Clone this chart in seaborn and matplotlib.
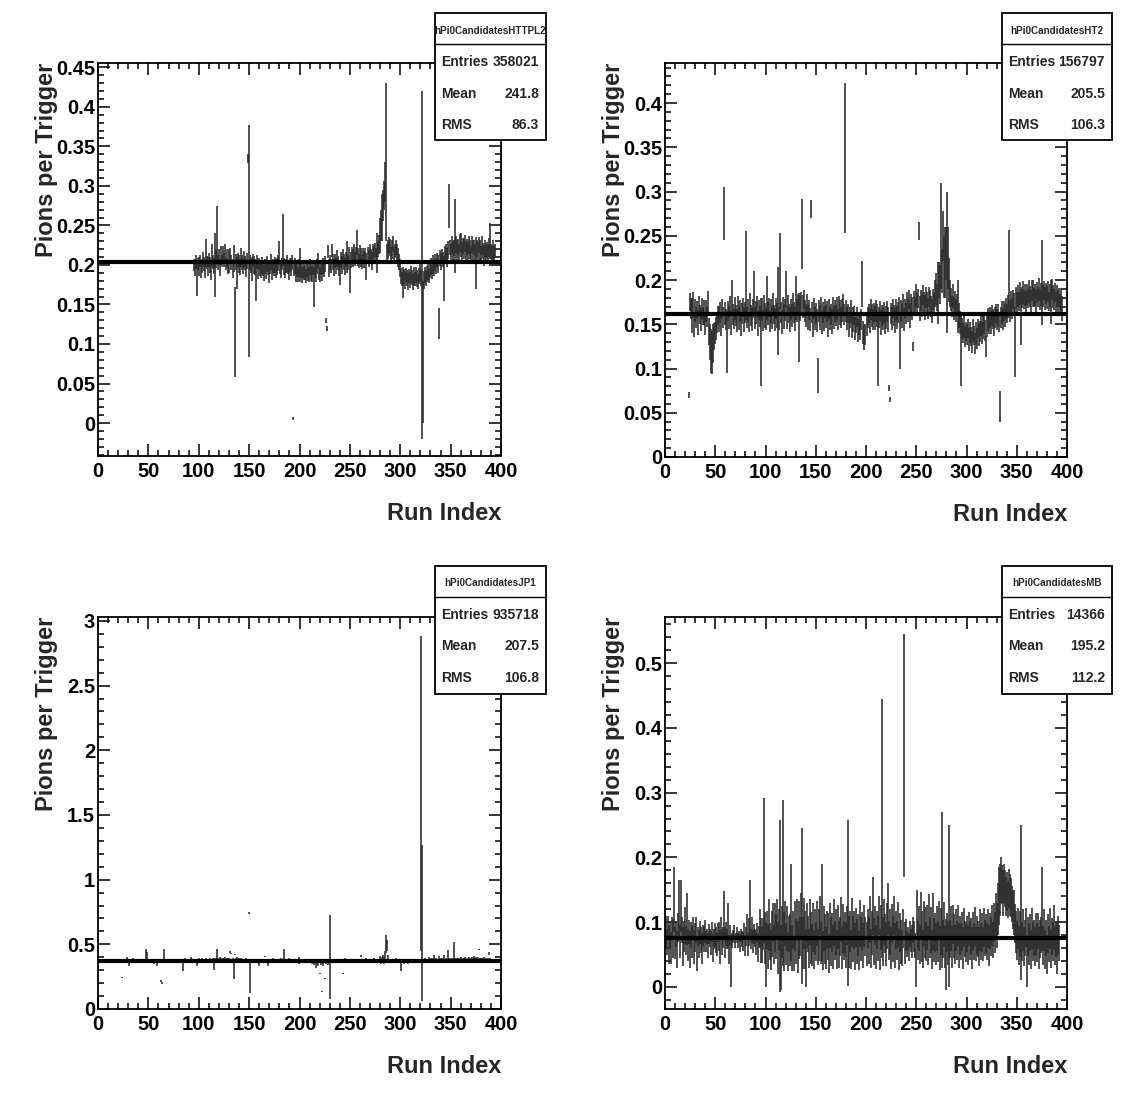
"""Pi0 candidates per trigger vs run index, four trigger panels (ROOT style)."""

import matplotlib

matplotlib.use("Agg")
import matplotlib.pyplot as plt
import numpy as np
import seaborn as sns
from matplotlib.patches import Rectangle
from matplotlib.ticker import MultipleLocator, FormatStrFormatter
from matplotlib.lines import Line2D

nan = float("nan")

# ---------------------------------------------------------------- HTTPL2
HTTPL2_START = 95
HTTPL2_VALUES = [
    0.200, 0.196, 0.204, 0.183, 0.201, 0.198, 0.205, 0.193, 0.199, 0.207,
    0.201, 0.195, 0.215, 0.203, 0.198, 0.206, 0.200, 0.192, 0.212, 0.204,
    0.199, 0.200, 0.208, 0.240, 0.203, 0.210, 0.197, 0.212, 0.205, 0.214,
    0.206, 0.216, 0.201, 0.209, 0.198, 0.205, 0.212, 0.203, 0.196, 0.208,
    0.115, 0.204, 0.190, 0.206, 0.201, 0.197, 0.210, 0.203, 0.199, 0.207,
    0.202, 0.196, 0.205, 0.335, 0.230, 0.203, 0.199, 0.195, 0.206, 0.200,
    0.197, 0.180, 0.204, 0.193, 0.201, 0.196, 0.192, 0.199, 0.194, 0.190,
    0.198, 0.193, 0.201, 0.195, 0.189, 0.197, 0.204, 0.192, 0.199, 0.196,
    0.200, 0.193, 0.198, 0.202, 0.215, 0.197, 0.194, 0.201, 0.232, 0.198,
    0.193, 0.199, 0.202, 0.196, 0.191, 0.200, 0.197, 0.203, 0.006, 0.195,
    0.199, 0.190, 0.194, 0.188, 0.196, 0.200, 0.192, 0.187, 0.195, 0.190,
    0.193, 0.186, 0.195, 0.191, 0.188, 0.197, 0.192, 0.189, 0.196, 0.172,
    0.194, 0.190, 0.198, 0.205, 0.193, 0.188, 0.196, 0.191, 0.199, 0.194,
    0.201, 0.130, 0.120, 0.217, 0.196, 0.203, 0.199, 0.218, 0.204, 0.197,
    0.205, 0.199, 0.208, 0.202, 0.196, 0.190, 0.206, 0.200, 0.211, 0.204,
    0.198, 0.207, 0.210, 0.203, 0.212, 0.185, 0.206, 0.214, 0.209, 0.216,
    0.208, 0.213, 0.228, 0.210, 0.205, 0.215, 0.209, 0.204, 0.211, 0.207,
    0.212, 0.198, 0.214, 0.208, 0.216, 0.211, 0.205, 0.217, 0.213, 0.219,
    0.212, 0.215, 0.220, 0.226, 0.237, 0.250, 0.260, 0.275, 0.288, 0.305,
    0.330, 0.215, 0.220, 0.225, 0.222, 0.214, 0.219, 0.226, 0.212, 0.218,
    0.222, 0.215, 0.210, 0.204, 0.196, 0.186, 0.182, 0.178, 0.185, 0.180,
    0.187, 0.183, 0.179, 0.186, 0.181, 0.188, 0.184, 0.178, 0.185, 0.182,
    0.187, 0.183, 0.179, 0.186, 0.190, 0.184, 0.200, 0.090, 0.181, 0.187,
    0.183, 0.189, 0.192, 0.186, 0.194, 0.198, 0.191, 0.200, 0.196, 0.203,
    0.198, 0.206, 0.201, 0.126, 0.209, 0.204, 0.211, 0.207, 0.183, 0.213,
    0.216, 0.210, 0.219, 0.275, 0.222, 0.214, 0.225, 0.218, 0.221, 0.237,
    0.226, 0.219, 0.223, 0.215, 0.228, 0.225, 0.217, 0.224, 0.220, 0.227,
    0.218, 0.223, 0.216, 0.225, 0.220, 0.214, 0.226, 0.219, 0.222, 0.215,
    0.202, 0.221, 0.217, 0.225, 0.219, 0.213, 0.224, 0.218, 0.212, 0.220,
    0.214, 0.219, 0.216, 0.222, 0.230, 0.217, 0.213, 0.219, 0.215, 0.218,
]
HTTPL2_ERRORS = [
    0.008, 0.010, 0.009, 0.022, 0.008, 0.012, 0.008, 0.010, 0.009, 0.010,
    0.009, 0.011, 0.018, 0.008, 0.012, 0.009, 0.010, 0.011, 0.015, 0.009,
    0.010, 0.040, 0.012, 0.035, 0.009, 0.010, 0.011, 0.012, 0.008, 0.010,
    0.009, 0.010, 0.008, 0.011, 0.010, 0.015, 0.009, 0.010, 0.012, 0.017,
    0.057, 0.010, 0.020, 0.009, 0.011, 0.010, 0.012, 0.009, 0.010, 0.011,
    0.009, 0.011, 0.010, 0.006, 0.147, 0.010, 0.009, 0.015, 0.008, 0.011,
    0.010, 0.025, 0.009, 0.011, 0.008, 0.010, 0.009, 0.011, 0.008, 0.010,
    0.009, 0.011, 0.010, 0.008, 0.012, 0.009, 0.010, 0.011, 0.009, 0.010,
    0.010, 0.009, 0.011, 0.010, 0.015, 0.009, 0.010, 0.008, 0.033, 0.011,
    0.010, 0.009, 0.011, 0.008, 0.010, 0.009, 0.011, 0.010, 0.002, 0.009,
    0.010, 0.011, 0.009, 0.010, 0.011, 0.022, 0.009, 0.010, 0.011, 0.009,
    0.012, 0.009, 0.010, 0.011, 0.009, 0.010, 0.012, 0.010, 0.009, 0.025,
    0.010, 0.011, 0.009, 0.010, 0.012, 0.010, 0.009, 0.011, 0.010, 0.009,
    0.010, 0.003, 0.003, 0.008, 0.011, 0.010, 0.009, 0.008, 0.010, 0.011,
    0.009, 0.010, 0.011, 0.009, 0.010, 0.015, 0.010, 0.011, 0.009, 0.010,
    0.011, 0.010, 0.020, 0.009, 0.011, 0.020, 0.010, 0.009, 0.011, 0.010,
    0.009, 0.010, 0.016, 0.011, 0.009, 0.010, 0.012, 0.009, 0.010, 0.011,
    0.010, 0.017, 0.009, 0.011, 0.010, 0.009, 0.012, 0.010, 0.011, 0.009,
    0.010, 0.025, 0.010, 0.012, 0.022, 0.020, 0.030, 0.020, 0.018, 0.025,
    0.100, 0.011, 0.012, 0.010, 0.011, 0.009, 0.012, 0.010, 0.011, 0.009,
    0.010, 0.011, 0.012, 0.010, 0.011, 0.010, 0.009, 0.020, 0.010, 0.011,
    0.009, 0.010, 0.011, 0.009, 0.010, 0.011, 0.009, 0.010, 0.012, 0.009,
    0.010, 0.011, 0.009, 0.010, 0.011, 0.010, 0.220, 0.090, 0.011, 0.010,
    0.009, 0.010, 0.011, 0.009, 0.010, 0.011, 0.009, 0.012, 0.010, 0.011,
    0.010, 0.009, 0.011, 0.020, 0.010, 0.011, 0.009, 0.010, 0.028, 0.011,
    0.010, 0.012, 0.011, 0.028, 0.010, 0.013, 0.011, 0.012, 0.010, 0.047,
    0.011, 0.013, 0.010, 0.012, 0.011, 0.015, 0.012, 0.010, 0.013, 0.011,
    0.012, 0.010, 0.013, 0.011, 0.012, 0.010, 0.011, 0.013, 0.010, 0.012,
    0.033, 0.011, 0.012, 0.010, 0.013, 0.011, 0.012, 0.010, 0.013, 0.011,
    0.012, 0.010, 0.011, 0.012, 0.023, 0.010, 0.011, 0.012, 0.010, 0.009,
]
HTTPL2_FIT = 0.2035

# ---------------------------------------------------------------- HT2
HT2_START = 20
HT2_VALUES = [
    nan, nan, nan, 0.070, 0.175, 0.168, 0.160, 0.172, 0.150, 0.165,
    0.158, 0.166, 0.152, 0.170, 0.161, 0.155, 0.168, 0.159, 0.163, 0.150,
    0.165, 0.158, 0.175, 0.142, 0.130, 0.120, 0.118, 0.128, 0.136, 0.140,
    0.145, 0.152, 0.160, 0.155, 0.163, 0.150, 0.167, 0.158, 0.275, 0.162,
    0.155, 0.130, 0.165, 0.158, 0.170, 0.152, 0.180, 0.161, 0.156, 0.168,
    0.160, 0.154, 0.171, 0.157, 0.165, 0.150, 0.162, 0.169, 0.155, 0.163,
    0.205, 0.158, 0.166, 0.152, 0.171, 0.160, 0.155, 0.168, 0.185, 0.157,
    0.163, 0.170, 0.151, 0.166, 0.159, 0.130, 0.167, 0.154, 0.172, 0.160,
    0.156, 0.180, 0.162, 0.169, 0.153, 0.165, 0.158, 0.173, 0.161, 0.155,
    0.168, 0.160, 0.165, 0.157, 0.210, 0.163, 0.152, 0.170, 0.159, 0.166,
    0.190, 0.158, 0.171, 0.162, 0.155, 0.167, 0.160, 0.174, 0.163, 0.156,
    0.180, 0.165, 0.172, 0.146, 0.168, 0.175, 0.252, 0.170, 0.178, 0.165,
    0.160, 0.172, 0.158, 0.166, 0.155, 0.280, 0.163, 0.150, 0.168, 0.157,
    0.162, 0.154, 0.092, 0.165, 0.158, 0.170, 0.152, 0.163, 0.156, 0.168,
    0.159, 0.164, 0.150, 0.167, 0.156, 0.161, 0.153, 0.170, 0.158, 0.165,
    0.160, 0.168, 0.155, 0.171, 0.163, 0.158, 0.166, 0.173, 0.161, 0.338,
    0.165, 0.157, 0.162, 0.150, 0.158, 0.164, 0.147, 0.155, 0.160, 0.145,
    0.152, 0.158, 0.143, 0.150, 0.146, 0.155, 0.196, 0.141, 0.135, 0.138,
    0.150, 0.158, 0.162, 0.154, 0.167, 0.160, 0.155, 0.163, 0.157, 0.165,
    0.160, 0.120, 0.158, 0.165, 0.152, 0.160, 0.156, 0.163, 0.150, 0.158,
    0.164, 0.155, 0.078, 0.065, 0.162, 0.157, 0.168, 0.160, 0.154, 0.166,
    0.158, 0.163, 0.170, 0.130, 0.165, 0.160, 0.172, 0.155, 0.168, 0.162,
    0.175, 0.166, 0.178, 0.160, 0.172, 0.168, 0.125, 0.176, 0.170, 0.182,
    0.173, 0.179, 0.255, 0.168, 0.177, 0.171, 0.183, 0.175, 0.169, 0.180,
    0.174, 0.168, 0.181, 0.176, 0.170, 0.165, 0.178, 0.172, 0.185, 0.190,
    0.180, 0.185, 0.200, 0.195, 0.250, 0.210, 0.250, 0.215, 0.220, 0.230,
    0.220, 0.225, 0.200, 0.185, 0.178, 0.170, 0.182, 0.168, 0.176, 0.165,
    0.172, 0.170, 0.160, 0.152, 0.120, 0.145, 0.140, 0.148, 0.136, 0.142,
    0.138, 0.145, 0.133, 0.141, 0.136, 0.130, 0.143, 0.137, 0.128, 0.140,
    0.134, 0.145, 0.138, 0.142, 0.148, 0.140, 0.146, 0.150, 0.143, 0.125,
    0.148, 0.155, 0.150, 0.158, 0.152, 0.160, 0.156, 0.150, 0.158, 0.162,
    0.155, 0.160, 0.152, 0.057, 0.158, 0.163, 0.156, 0.165, 0.160, 0.168,
    0.162, 0.170, 0.210, 0.165, 0.175, 0.168, 0.178, 0.172, 0.130, 0.180,
    0.174, 0.182, 0.176, 0.185, 0.158, 0.180, 0.186, 0.178, 0.183, 0.175,
    0.184, 0.179, 0.187, 0.181, 0.176, 0.188, 0.185, 0.180, 0.183, 0.177,
    0.186, 0.181, 0.189, 0.178, 0.184, 0.197, 0.182, 0.188, 0.179, 0.185,
    0.180, 0.187, 0.176, 0.183, 0.175, 0.189, 0.181, 0.178, 0.186, 0.174,
    0.182, 0.176, 0.180, 0.172, 0.178, 0.168,
]
HT2_ERRORS = [
    nan, nan, nan, 0.003, 0.010, 0.012, 0.020, 0.015, 0.014, 0.013,
    0.012, 0.010, 0.014, 0.012, 0.011, 0.013, 0.012, 0.010, 0.014, 0.012,
    0.012, 0.011, 0.013, 0.015, 0.020, 0.025, 0.024, 0.022, 0.015, 0.012,
    0.013, 0.012, 0.011, 0.014, 0.012, 0.013, 0.011, 0.012, 0.030, 0.013,
    0.012, 0.035, 0.011, 0.013, 0.012, 0.014, 0.020, 0.012, 0.011, 0.013,
    0.012, 0.013, 0.011, 0.014, 0.012, 0.013, 0.012, 0.011, 0.014, 0.012,
    0.050, 0.012, 0.013, 0.011, 0.014, 0.012, 0.013, 0.011, 0.025, 0.012,
    0.013, 0.012, 0.014, 0.011, 0.012, 0.050, 0.013, 0.012, 0.011, 0.014,
    0.012, 0.025, 0.013, 0.011, 0.012, 0.014, 0.013, 0.012, 0.011, 0.013,
    0.012, 0.014, 0.050, 0.013, 0.043, 0.012, 0.013, 0.011, 0.014, 0.012,
    0.020, 0.013, 0.012, 0.011, 0.014, 0.012, 0.013, 0.011, 0.012, 0.014,
    0.025, 0.013, 0.012, 0.039, 0.014, 0.012, 0.040, 0.013, 0.011, 0.012,
    0.013, 0.012, 0.014, 0.011, 0.013, 0.010, 0.012, 0.014, 0.012, 0.013,
    0.012, 0.013, 0.020, 0.012, 0.014, 0.011, 0.013, 0.012, 0.014, 0.011,
    0.013, 0.012, 0.014, 0.011, 0.013, 0.012, 0.014, 0.011, 0.013, 0.012,
    0.012, 0.013, 0.012, 0.011, 0.014, 0.012, 0.013, 0.011, 0.012, 0.085,
    0.012, 0.013, 0.011, 0.014, 0.012, 0.013, 0.012, 0.014, 0.011, 0.013,
    0.012, 0.011, 0.013, 0.012, 0.014, 0.012, 0.026, 0.013, 0.014, 0.012,
    0.013, 0.012, 0.011, 0.014, 0.012, 0.013, 0.012, 0.011, 0.014, 0.012,
    0.013, 0.040, 0.012, 0.011, 0.014, 0.012, 0.013, 0.012, 0.011, 0.013,
    0.012, 0.014, 0.003, 0.003, 0.012, 0.013, 0.011, 0.012, 0.014, 0.012,
    0.013, 0.012, 0.011, 0.030, 0.012, 0.014, 0.012, 0.013, 0.011, 0.012,
    0.012, 0.013, 0.011, 0.014, 0.012, 0.013, 0.005, 0.012, 0.011, 0.013,
    0.012, 0.011, 0.010, 0.014, 0.012, 0.013, 0.011, 0.012, 0.014, 0.012,
    0.013, 0.012, 0.011, 0.013, 0.012, 0.014, 0.012, 0.013, 0.015, 0.018,
    0.015, 0.035, 0.020, 0.022, 0.060, 0.025, 0.028, 0.035, 0.040, 0.030,
    0.080, 0.035, 0.025, 0.015, 0.013, 0.012, 0.014, 0.013, 0.012, 0.013,
    0.012, 0.030, 0.014, 0.013, 0.040, 0.012, 0.011, 0.013, 0.012, 0.011,
    0.012, 0.011, 0.013, 0.012, 0.011, 0.012, 0.013, 0.011, 0.012, 0.013,
    0.012, 0.011, 0.013, 0.012, 0.011, 0.012, 0.013, 0.011, 0.012, 0.012,
    0.012, 0.013, 0.011, 0.012, 0.013, 0.012, 0.011, 0.013, 0.012, 0.011,
    0.012, 0.013, 0.011, 0.018, 0.012, 0.013, 0.012, 0.011, 0.013, 0.012,
    0.011, 0.013, 0.047, 0.012, 0.013, 0.012, 0.011, 0.013, 0.040, 0.012,
    0.013, 0.012, 0.011, 0.013, 0.032, 0.012, 0.013, 0.011, 0.012, 0.013,
    0.012, 0.011, 0.013, 0.012, 0.013, 0.012, 0.015, 0.011, 0.012, 0.013,
    0.012, 0.011, 0.013, 0.012, 0.013, 0.048, 0.012, 0.011, 0.013, 0.012,
    0.013, 0.012, 0.011, 0.013, 0.025, 0.012, 0.013, 0.012, 0.011, 0.013,
    0.012, 0.013, 0.011, 0.012, 0.013, 0.014,
]
HT2_FIT = 0.162

# ---------------------------------------------------------------- JP1
JP1_START = 20
JP1_VALUES = [
    nan, nan, nan, 0.245, 0.372, 0.378, 0.368, 0.381, 0.385, 0.374,
    0.350, 0.376, 0.379, 0.371, 0.383, 0.375, 0.369, 0.380, 0.377, 0.372,
    0.382, 0.374, 0.378, 0.370, 0.384, 0.376, 0.380, 0.420, 0.410, 0.373,
    0.377, 0.369, 0.381, 0.375, 0.372, 0.360, 0.379, 0.374, 0.350, 0.378,
    0.371, 0.376, 0.215, 0.200, 0.380, 0.415, 0.373, 0.378, 0.370, 0.384,
    0.375, 0.381, 0.377, 0.372, 0.383, 0.374, 0.379, 0.370, 0.376, 0.382,
    0.373, 0.378, 0.380, 0.371, 0.330, 0.376, 0.384, 0.369, 0.375, 0.381,
    0.377, 0.372, 0.385, 0.374, 0.379, 0.383, 0.370, 0.376, 0.355, 0.380,
    0.384, 0.375, 0.379, 0.386, 0.373, 0.381, 0.377, 0.388, 0.374, 0.382,
    0.379, 0.386, 0.375, 0.383, 0.390, 0.340, 0.384, 0.392, 0.425, 0.387,
    0.381, 0.394, 0.385, 0.378, 0.390, 0.383, 0.396, 0.380, 0.388, 0.384,
    0.391, 0.440, 0.430, 0.386, 0.300, 0.420, 0.389, 0.395, 0.382, 0.388,
    0.379, 0.385, 0.376, 0.382, 0.373, 0.380, 0.386, 0.374, 0.381, 0.740,
    0.250, 0.378, 0.383, 0.372, 0.379, 0.375, 0.381, 0.370, 0.376, 0.350,
    0.377, 0.382, 0.373, 0.379, 0.384, 0.405, 0.374, 0.380, 0.350, 0.376,
    0.382, 0.371, 0.378, 0.384, 0.375, 0.381, 0.369, 0.377, 0.383, 0.372,
    0.379, 0.385, 0.374, 0.380, 0.420, 0.376, 0.382, 0.370, 0.378, 0.384,
    0.373, 0.379, 0.366, 0.381, 0.375, 0.369, 0.383, 0.372, 0.377, 0.375,
    0.370, 0.378, 0.365, 0.374, 0.368, 0.376, 0.362, 0.371, 0.366, 0.373,
    0.360, 0.368, 0.355, 0.364, 0.350, 0.362, 0.340, 0.357, 0.345, 0.360,
    0.275, 0.352, 0.136, 0.348, 0.362, 0.237, 0.356, 0.365, 0.350, 0.368,
    0.405, 0.372, 0.378, 0.366, 0.381, 0.374, 0.369, 0.377, 0.383, 0.371,
    0.376, 0.380, 0.373, 0.275, 0.378, 0.384, 0.370, 0.375, 0.381, 0.372,
    0.379, 0.374, 0.383, 0.368, 0.377, 0.382, 0.371, 0.376, 0.380, 0.373,
    0.378, 0.410, 0.375, 0.381, 0.369, 0.377, 0.383, 0.372, 0.379, 0.374,
    0.380, 0.371, 0.377, 0.384, 0.373, 0.378, 0.369, 0.382, 0.375, 0.390,
    0.365, 0.385, 0.400, 0.375, 0.420, 0.500, 0.490, 0.395, 0.380, 0.372,
    0.378, 0.374, 0.381, 0.370, 0.376, 0.383, 0.372, 0.379, 0.366, 0.374,
    0.330, 0.362, 0.368, 0.357, 0.365, 0.360, 0.371, 0.358, 0.366, 0.362,
    0.368, 0.359, 0.365, 0.370, 0.362, 0.367, 0.373, 0.364, 0.369, 0.375,
    1.665, 0.665, 0.380, 0.374, 0.386, 0.378, 0.383, 0.376, 0.390, 0.381,
    0.387, 0.379, 0.385, 0.395, 0.381, 0.388, 0.377, 0.384, 0.392, 0.380,
    0.386, 0.378, 0.383, 0.400, 0.381, 0.387, 0.379, 0.420, 0.384, 0.390,
    0.382, 0.388, 0.380, 0.445, 0.385, 0.379, 0.391, 0.383, 0.388, 0.381,
    0.392, 0.386, 0.380, 0.389, 0.395, 0.384, 0.390, 0.382, 0.393, 0.387,
    0.381, 0.394, 0.388, 0.400, 0.385, 0.391, 0.383, 0.396, 0.460, 0.389,
    0.384, 0.392, 0.386, 0.395, 0.381, 0.389, 0.383, 0.390, 0.430, 0.385,
]
JP1_ERRORS = [
    nan, nan, nan, 0.004, 0.006, 0.007, 0.008, 0.006, 0.020, 0.007,
    0.020, 0.006, 0.007, 0.006, 0.008, 0.006, 0.007, 0.006, 0.008, 0.007,
    0.007, 0.006, 0.008, 0.007, 0.006, 0.007, 0.008, 0.040, 0.030, 0.006,
    0.008, 0.007, 0.006, 0.008, 0.007, 0.015, 0.006, 0.007, 0.015, 0.006,
    0.007, 0.008, 0.006, 0.008, 0.007, 0.045, 0.006, 0.007, 0.008, 0.006,
    0.007, 0.006, 0.008, 0.007, 0.006, 0.008, 0.007, 0.006, 0.008, 0.007,
    0.006, 0.007, 0.008, 0.006, 0.040, 0.007, 0.008, 0.006, 0.007, 0.008,
    0.006, 0.007, 0.015, 0.008, 0.006, 0.007, 0.008, 0.006, 0.025, 0.007,
    0.008, 0.006, 0.007, 0.008, 0.006, 0.007, 0.008, 0.006, 0.007, 0.008,
    0.006, 0.007, 0.008, 0.006, 0.007, 0.035, 0.008, 0.006, 0.040, 0.007,
    0.008, 0.006, 0.007, 0.008, 0.006, 0.007, 0.008, 0.006, 0.007, 0.008,
    0.006, 0.005, 0.005, 0.007, 0.070, 0.005, 0.008, 0.006, 0.007, 0.008,
    0.006, 0.007, 0.008, 0.006, 0.007, 0.008, 0.006, 0.007, 0.008, 0.008,
    0.125, 0.007, 0.006, 0.008, 0.007, 0.006, 0.008, 0.007, 0.006, 0.020,
    0.007, 0.006, 0.008, 0.007, 0.006, 0.005, 0.008, 0.007, 0.020, 0.006,
    0.008, 0.007, 0.006, 0.008, 0.007, 0.006, 0.008, 0.007, 0.006, 0.008,
    0.007, 0.006, 0.008, 0.007, 0.040, 0.006, 0.008, 0.007, 0.006, 0.008,
    0.007, 0.006, 0.008, 0.007, 0.006, 0.008, 0.007, 0.006, 0.008, 0.025,
    0.006, 0.008, 0.007, 0.006, 0.008, 0.007, 0.006, 0.008, 0.007, 0.006,
    0.008, 0.007, 0.008, 0.006, 0.010, 0.007, 0.025, 0.008, 0.015, 0.006,
    0.004, 0.012, 0.004, 0.015, 0.007, 0.004, 0.008, 0.006, 0.010, 0.007,
    0.325, 0.008, 0.006, 0.007, 0.008, 0.006, 0.007, 0.008, 0.006, 0.007,
    0.008, 0.006, 0.007, 0.004, 0.006, 0.008, 0.007, 0.006, 0.008, 0.007,
    0.006, 0.008, 0.007, 0.006, 0.008, 0.007, 0.006, 0.008, 0.007, 0.006,
    0.008, 0.010, 0.006, 0.008, 0.007, 0.006, 0.008, 0.007, 0.006, 0.008,
    0.007, 0.006, 0.008, 0.007, 0.006, 0.008, 0.007, 0.006, 0.008, 0.020,
    0.015, 0.020, 0.020, 0.025, 0.030, 0.070, 0.040, 0.020, 0.010, 0.008,
    0.007, 0.006, 0.008, 0.007, 0.006, 0.008, 0.007, 0.006, 0.008, 0.007,
    0.035, 0.008, 0.007, 0.006, 0.008, 0.007, 0.006, 0.008, 0.007, 0.006,
    0.008, 0.007, 0.006, 0.008, 0.007, 0.006, 0.008, 0.007, 0.006, 0.008,
    1.220, 0.600, 0.010, 0.007, 0.008, 0.006, 0.007, 0.008, 0.015, 0.007,
    0.006, 0.008, 0.007, 0.020, 0.006, 0.008, 0.007, 0.006, 0.015, 0.008,
    0.007, 0.006, 0.008, 0.020, 0.007, 0.006, 0.008, 0.035, 0.007, 0.006,
    0.008, 0.007, 0.006, 0.070, 0.008, 0.007, 0.006, 0.008, 0.007, 0.006,
    0.008, 0.007, 0.006, 0.008, 0.007, 0.006, 0.008, 0.007, 0.006, 0.008,
    0.007, 0.006, 0.008, 0.010, 0.006, 0.008, 0.007, 0.006, 0.004, 0.008,
    0.007, 0.006, 0.008, 0.007, 0.006, 0.008, 0.007, 0.006, 0.010, 0.008,
]
JP1_FIT = 0.37

# ---------------------------------------------------------------- MB
MB_START = 0
MB_VALUES = [
    0.085, 0.070, 0.095, 0.065, 0.080, 0.060, 0.090, 0.075, 0.135, 0.068,
    0.082, 0.058, 0.092, 0.120, 0.070, 0.125, 0.088, 0.062, 0.078, 0.095,
    0.072, 0.105, 0.065, 0.085, 0.058, 0.080, 0.070, 0.090, 0.062, 0.076,
    0.088, 0.050, 0.078, 0.066, 0.084, 0.072, 0.060, 0.080, 0.074, 0.086,
    0.070, 0.078, 0.064, 0.082, 0.076, 0.068, 0.085, 0.060, 0.074, 0.080,
    0.072, 0.066, 0.084, 0.078, 0.062, 0.090, 0.070, 0.076, 0.110, 0.068,
    0.082, 0.074, 0.095, 0.058, 0.080, 0.040, 0.072, 0.078, 0.084, 0.070,
    0.076, 0.082, 0.072, 0.078, 0.068, 0.080, 0.074, 0.070, 0.086, 0.064,
    0.078, 0.092, 0.066, 0.085, 0.120, 0.074, 0.088, 0.070, 0.082, 0.076,
    0.068, 0.084, 0.060, 0.078, 0.090, 0.072, 0.065, 0.082, 0.180, 0.075,
    0.050, 0.088, 0.062, 0.095, 0.070, 0.058, 0.082, 0.100, 0.065, 0.092,
    0.078, 0.105, 0.060, 0.088, 0.125, 0.045, 0.085, 0.160, 0.070, 0.098,
    0.066, 0.090, 0.055, 0.082, 0.072, 0.115, 0.060, 0.088, 0.050, 0.094,
    0.070, 0.105, 0.062, 0.088, 0.078, 0.110, 0.125, 0.068, 0.098, 0.072,
    0.045, 0.095, 0.082, 0.060, 0.100, 0.075, 0.065, 0.092, 0.058, 0.085,
    0.070, 0.098, 0.062, 0.080, 0.110, 0.068, 0.115, 0.056, 0.090, 0.074,
    0.060, 0.088, 0.078, 0.052, 0.095, 0.070, 0.084, 0.062, 0.100, 0.072,
    0.085, 0.058, 0.092, 0.066, 0.078, 0.104, 0.060, 0.090, 0.072, 0.082,
    0.065, 0.095, 0.130, 0.070, 0.086, 0.058, 0.100, 0.074, 0.088, 0.062,
    0.092, 0.070, 0.080, 0.056, 0.098, 0.074, 0.086, 0.064, 0.094, 0.078,
    0.066, 0.090, 0.072, 0.105, 0.060, 0.084, 0.125, 0.070, 0.095, 0.062,
    0.088, 0.075, 0.110, 0.058, 0.092, 0.245, 0.070, 0.100, 0.082, 0.066,
    0.094, 0.120, 0.072, 0.085, 0.060, 0.098, 0.074, 0.110, 0.064, 0.088,
    0.072, 0.096, 0.058, 0.084, 0.070, 0.060, 0.090, 0.357, 0.068, 0.080,
    0.066, 0.075, 0.062, 0.082, 0.072, 0.070, 0.088, 0.078, 0.064, 0.030,
    0.105, 0.072, 0.090, 0.066, 0.112, 0.078, 0.060, 0.098, 0.084, 0.070,
    0.092, 0.064, 0.108, 0.076, 0.088, 0.058, 0.100, 0.072, 0.084, 0.066,
    0.090, 0.070, 0.102, 0.060, 0.086, 0.150, 0.074, 0.096, 0.062, 0.050,
    0.084, 0.068, 0.125, 0.074, 0.090, 0.062, 0.096, 0.078, 0.066, 0.088,
    0.072, 0.095, 0.064, 0.080, 0.070, 0.086, 0.060, 0.092, 0.074, 0.068,
    0.082, 0.064, 0.090, 0.072, 0.078, 0.060, 0.086, 0.070, 0.094, 0.066,
    0.080, 0.074, 0.062, 0.088, 0.070, 0.084, 0.066, 0.092, 0.076, 0.082,
    0.070, 0.090, 0.064, 0.086, 0.078, 0.095, 0.072, 0.100, 0.084, 0.110,
    0.095, 0.120, 0.140, 0.150, 0.165, 0.158, 0.145, 0.160, 0.152, 0.140,
    0.148, 0.135, 0.152, 0.142, 0.138, 0.128, 0.120, 0.115, 0.098, 0.085,
    0.072, 0.090, 0.064, 0.082, 0.130, 0.070, 0.088, 0.062, 0.076, 0.092,
    0.040, 0.078, 0.066, 0.084, 0.058, 0.090, 0.070, 0.076, 0.062, 0.082,
    0.068, 0.086, 0.060, 0.074, 0.080, 0.120, 0.064, 0.088, 0.058, 0.076,
    0.050, 0.082, 0.066, 0.090, 0.060, 0.078, 0.070, 0.092, 0.064, 0.074,
    0.060, 0.080, 0.068,
]
MB_ERRORS = [
    0.025, 0.020, 0.015, 0.030, 0.022, 0.025, 0.018, 0.030, 0.050, 0.025,
    0.020, 0.028, 0.022, 0.045, 0.025, 0.040, 0.020, 0.030, 0.024, 0.028,
    0.022, 0.040, 0.025, 0.018, 0.028, 0.020, 0.025, 0.018, 0.026, 0.022,
    0.020, 0.025, 0.015, 0.022, 0.018, 0.020, 0.024, 0.016, 0.020, 0.018,
    0.016, 0.012, 0.020, 0.015, 0.014, 0.018, 0.016, 0.022, 0.015, 0.018,
    0.020, 0.018, 0.015, 0.022, 0.026, 0.018, 0.020, 0.016, 0.038, 0.024,
    0.018, 0.016, 0.035, 0.022, 0.015, 0.040, 0.012, 0.010, 0.012, 0.010,
    0.008, 0.010, 0.012, 0.009, 0.014, 0.010, 0.012, 0.015, 0.012, 0.016,
    0.014, 0.020, 0.018, 0.022, 0.045, 0.016, 0.020, 0.018, 0.015, 0.014,
    0.018, 0.015, 0.022, 0.016, 0.030, 0.035, 0.028, 0.025, 0.112, 0.040,
    0.050, 0.030, 0.035, 0.040, 0.028, 0.032, 0.036, 0.030, 0.030, 0.038,
    0.035, 0.030, 0.040, 0.032, 0.132, 0.050, 0.040, 0.128, 0.045, 0.035,
    0.032, 0.035, 0.030, 0.028, 0.040, 0.075, 0.035, 0.030, 0.025, 0.038,
    0.035, 0.030, 0.040, 0.045, 0.030, 0.035, 0.120, 0.040, 0.040, 0.045,
    0.045, 0.035, 0.028, 0.030, 0.035, 0.040, 0.032, 0.038, 0.030, 0.036,
    0.030, 0.035, 0.028, 0.040, 0.030, 0.032, 0.075, 0.030, 0.035, 0.038,
    0.032, 0.030, 0.036, 0.030, 0.035, 0.038, 0.030, 0.034, 0.036, 0.030,
    0.035, 0.030, 0.034, 0.036, 0.030, 0.035, 0.032, 0.038, 0.030, 0.034,
    0.035, 0.030, 0.128, 0.040, 0.032, 0.030, 0.038, 0.035, 0.030, 0.036,
    0.030, 0.035, 0.032, 0.030, 0.036, 0.034, 0.030, 0.035, 0.032, 0.030,
    0.034, 0.030, 0.036, 0.035, 0.030, 0.034, 0.045, 0.036, 0.030, 0.034,
    0.030, 0.035, 0.030, 0.032, 0.035, 0.200, 0.038, 0.035, 0.030, 0.034,
    0.035, 0.040, 0.030, 0.036, 0.032, 0.030, 0.035, 0.030, 0.034, 0.030,
    0.030, 0.035, 0.032, 0.030, 0.034, 0.028, 0.030, 0.187, 0.032, 0.025,
    0.020, 0.018, 0.022, 0.020, 0.018, 0.025, 0.020, 0.024, 0.020, 0.030,
    0.045, 0.030, 0.035, 0.030, 0.035, 0.040, 0.030, 0.035, 0.040, 0.030,
    0.035, 0.030, 0.036, 0.032, 0.035, 0.030, 0.045, 0.034, 0.030, 0.032,
    0.035, 0.032, 0.030, 0.034, 0.036, 0.120, 0.030, 0.035, 0.032, 0.055,
    0.030, 0.034, 0.125, 0.030, 0.035, 0.032, 0.030, 0.034, 0.030, 0.032,
    0.030, 0.032, 0.034, 0.030, 0.028, 0.030, 0.032, 0.030, 0.028, 0.030,
    0.028, 0.030, 0.026, 0.030, 0.028, 0.032, 0.030, 0.028, 0.030, 0.026,
    0.030, 0.028, 0.030, 0.032, 0.028, 0.030, 0.026, 0.030, 0.028, 0.030,
    0.028, 0.030, 0.032, 0.028, 0.030, 0.032, 0.028, 0.030, 0.032, 0.035,
    0.035, 0.040, 0.045, 0.040, 0.035, 0.030, 0.035, 0.030, 0.028, 0.030,
    0.030, 0.028, 0.030, 0.032, 0.030, 0.028, 0.030, 0.035, 0.030, 0.032,
    0.030, 0.032, 0.030, 0.035, 0.120, 0.030, 0.032, 0.030, 0.028, 0.030,
    0.040, 0.030, 0.032, 0.028, 0.030, 0.032, 0.030, 0.028, 0.030, 0.032,
    0.030, 0.028, 0.032, 0.030, 0.028, 0.065, 0.030, 0.032, 0.030, 0.028,
    0.030, 0.030, 0.028, 0.032, 0.030, 0.028, 0.030, 0.035, 0.030, 0.028,
    0.040, 0.030, 0.028,
]
MB_FIT = 0.075

# panel descriptions: name, stats, data, y range and tick steps
PANELS = [
    dict(name="hPi0CandidatesHTTPL2", entries="358021", mean="241.8", rms="86.3",
         start=HTTPL2_START, values=HTTPL2_VALUES, errors=HTTPL2_ERRORS, fit=HTTPL2_FIT,
         ylim=(-0.0417, 0.4555), major=0.05, minor=0.01, fmt="%g"),
    dict(name="hPi0CandidatesHT2", entries="156797", mean="205.5", rms="106.3",
         start=HT2_START, values=HT2_VALUES, errors=HT2_ERRORS, fit=HT2_FIT,
         ylim=(0.0, 0.4452), major=0.05, minor=0.01, fmt="%g"),
    dict(name="hPi0CandidatesJP1", entries="935718", mean="207.5", rms="106.8",
         start=JP1_START, values=JP1_VALUES, errors=JP1_ERRORS, fit=JP1_FIT,
         ylim=(0.0, 3.03), major=0.5, minor=0.1, fmt="%g"),
    dict(name="hPi0CandidatesMB", entries="14366", mean="195.2", rms="112.2",
         start=MB_START, values=MB_VALUES, errors=MB_ERRORS, fit=MB_FIT,
         ylim=(-0.034, 0.571), major=0.1, minor=0.02, fmt="%g"),
]

FIG_W, FIG_H = 1134, 1106
# axes boxes in pixels: left, top, right, bottom
AXES_PX = [(98, 63, 501, 456), (665, 63, 1067, 457),
           (98, 617, 501, 1009), (665, 617, 1067, 1009)]
BOX_PX = [(435, 13, 546, 140), (1002, 13, 1112, 140),
          (435, 566, 546, 694), (1002, 566, 1112, 694)]

LINE_COLOR = "#2a2a2a"


def setup_style():
    sns.set_theme(style="white")
    plt.rcParams["font.family"] = ["Liberation Sans", "DejaVu Sans"]
    plt.rcParams["font.weight"] = "bold"
    plt.rcParams["axes.linewidth"] = 1.3
    plt.rcParams["axes.edgecolor"] = "black"


def px_to_fig(left, top, right, bottom):
    return [left / FIG_W, 1 - bottom / FIG_H, (right - left) / FIG_W, (bottom - top) / FIG_H]


def draw_panel(fig, panel, axes_px, box_px):
    ax = fig.add_axes(px_to_fig(*axes_px))
    values = np.array(panel["values"], dtype=float)
    errors = np.array(panel["errors"], dtype=float)
    assert len(values) == len(errors), panel["name"]
    runs = np.arange(panel["start"], panel["start"] + len(values)) + 0.5
    ok = ~np.isnan(values)

    ax.vlines(runs[ok], values[ok] - errors[ok], values[ok] + errors[ok],
              color=LINE_COLOR, lw=1.15, zorder=2)
    ax.axhline(panel["fit"], color="black", lw=3.0, zorder=3)

    ax.set_xlim(0, 400)
    ax.set_ylim(*panel["ylim"])
    ax.xaxis.set_major_locator(MultipleLocator(50))
    ax.xaxis.set_minor_locator(MultipleLocator(10))
    ax.yaxis.set_major_locator(MultipleLocator(panel["major"]))
    ax.yaxis.set_minor_locator(MultipleLocator(panel["minor"]))
    ax.yaxis.set_major_formatter(FormatStrFormatter(panel["fmt"]))
    ax.tick_params(which="both", direction="in", top=True, right=True,
                   bottom=True, left=True, width=1.1, colors="black")
    ax.tick_params(which="major", length=8.5)
    ax.tick_params(which="minor", length=4)
    ax.tick_params(axis="x", which="major", labelsize=14.5, pad=4)
    ax.tick_params(axis="y", which="major", labelsize=14.5, pad=2)
    for label in ax.get_xticklabels() + ax.get_yticklabels():
        label.set_fontweight("bold")

    ax.set_xlabel("Run Index", fontsize=17, fontweight="bold", loc="right")
    ax.xaxis.set_label_coords(1.0, -0.118)
    ax.set_ylabel("Pions per Trigger", fontsize=17, fontweight="bold", loc="top")
    ax.yaxis.set_label_coords(-0.1, 1.0)

    # stats box
    left, top, right, bottom = box_px
    x0, y0, w, h = px_to_fig(left, top, right, bottom)
    fig.add_artist(Rectangle((x0, y0), w, h, transform=fig.transFigure,
                             facecolor="white", edgecolor="black", lw=1.3, zorder=10))
    sep_y = 1 - (top + 31) / FIG_H
    fig.add_artist(Line2D([x0, x0 + w], [sep_y, sep_y], transform=fig.transFigure,
                          color="black", lw=1.0, zorder=11))
    fig.text(x0 + w / 2, 1 - (top + 17.5) / FIG_H, panel["name"], ha="center", va="center",
             fontsize=7.1, fontweight="bold", zorder=12)
    rows = [("Entries", panel["entries"]), ("Mean", panel["mean"]), ("RMS", panel["rms"])]
    for i, (key, val) in enumerate(rows):
        y = 1 - (top + 49 + i * 31.5) / FIG_H
        fig.text(x0 + 6 / FIG_W, y, key, ha="left", va="center", fontsize=10,
                 fontweight="bold", zorder=12)
        fig.text(x0 + w - 7 / FIG_W, y, val, ha="right", va="center", fontsize=10,
                 fontweight="bold", zorder=12)


def main():
    setup_style()
    fig = plt.figure(figsize=(FIG_W / 100, FIG_H / 100), dpi=100)
    fig.patch.set_facecolor("white")
    for panel, axes_px, box_px in zip(PANELS, AXES_PX, BOX_PX):
        draw_panel(fig, panel, axes_px, box_px)
    fig.savefig("out.png", dpi=100, facecolor="white")
    plt.close(fig)


if __name__ == "__main__":
    main()
